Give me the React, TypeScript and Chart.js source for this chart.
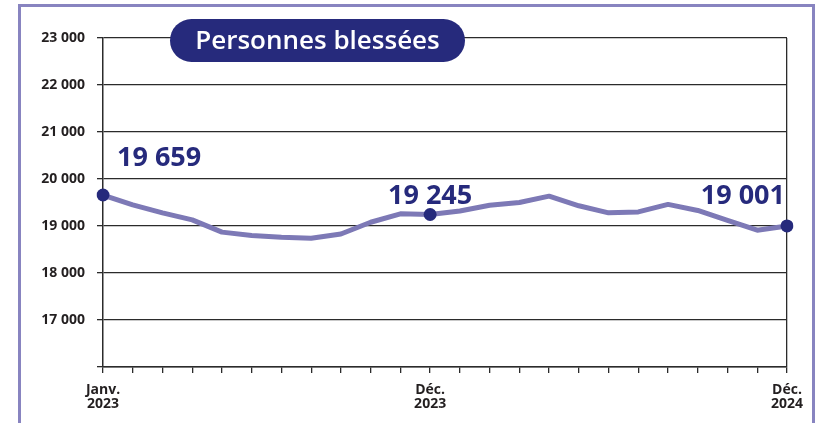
import React, { useEffect, useRef } from "react";
import { Chart, registerables } from "chart.js";

Chart.register(...registerables);

const months: string[] = [
  "Janv. 2023", "Févr. 2023", "Mars 2023", "Avr. 2023", "Mai 2023", "Juin 2023",
  "Juil. 2023", "Août 2023", "Sept. 2023", "Oct. 2023", "Nov. 2023", "Déc. 2023",
  "Janv. 2024", "Févr. 2024", "Mars 2024", "Avr. 2024", "Mai 2024", "Juin 2024",
  "Juil. 2024", "Août 2024", "Sept. 2024", "Oct. 2024", "Nov. 2024", "Déc. 2024",
];

const injured: number[] = [
  19659, 19450, 19280, 19130, 18870, 18800, 18760, 18740, 18830, 19080, 19260, 19245,
  19320, 19440, 19500, 19635, 19430, 19280, 19300, 19460, 19330, 19120, 18910, 19001,
];

const highlighted: number[] = [0, 11, 23];
const tickLabelIdx: number[] = [0, 11, 23];
const title = "Personnes blessées";

const yMin = 16000;
const yMax = 23000;
const yStep = 1000;

const NAVY = "#262a7c";
const LINE = "#7d79b6";
const AXIS = "#2b2b2b";
const TEXT = "#231f20";
const FONT = "'Open Sans', 'Noto Sans', sans-serif";

const fmt = (n: number) => {
  const th = Math.floor(n / 1000);
  const rest = String(Math.round(n % 1000)).padStart(3, "0");
  return `${th} ${rest}`;
};

const overlayPlugin = {
  id: "overlay",
  afterDatasetsDraw(chart: any) {
    const ctx = chart.ctx as CanvasRenderingContext2D;
    const xs = chart.scales.x;
    const ys = chart.scales.y;
    ctx.save();
    // value labels
    ctx.fillStyle = NAVY;
    ctx.font = `bold 27px ${FONT}`;
    ctx.textBaseline = "alphabetic";
    highlighted.forEach((idx, k) => {
      const px = xs.getPixelForValue(idx);
      const py = ys.getPixelForValue(injured[idx]);
      const txt = fmt(injured[idx]);
      if (k === 0) {
        ctx.textAlign = "left";
        ctx.fillText(txt, px + 14, py - 29);
      } else if (k === highlighted.length - 1) {
        ctx.textAlign = "right";
        ctx.fillText(txt, px - 2, py - 22);
      } else {
        ctx.textAlign = "center";
        ctx.fillText(txt, px, py - 10);
      }
    });
    // title pill
    const x0 = 170, y0 = 19, w = 295, h = 43, r = 21.5;
    ctx.fillStyle = NAVY;
    ctx.beginPath();
    ctx.moveTo(x0 + r, y0);
    ctx.lineTo(x0 + w - r, y0);
    ctx.arc(x0 + w - r, y0 + r, r, -Math.PI / 2, Math.PI / 2);
    ctx.lineTo(x0 + r, y0 + h);
    ctx.arc(x0 + r, y0 + r, r, Math.PI / 2, (3 * Math.PI) / 2);
    ctx.closePath();
    ctx.fill();
    ctx.fillStyle = "#ffffff";
    ctx.font = `600 26px ${FONT}`;
    ctx.textAlign = "center";
    ctx.textBaseline = "middle";
    ctx.fillText(title, x0 + w / 2, y0 + h / 2 + 1);
    ctx.restore();
  },
};

export default function App() {
  const ref = useRef<HTMLCanvasElement>(null);
  useEffect(() => {
    if (!ref.current) return;
    const chart = new Chart(ref.current, {
      type: "line",
      data: {
        labels: months,
        datasets: [
          {
            data: injured,
            borderColor: LINE,
            borderWidth: 5,
            borderJoinStyle: "round",
            borderCapStyle: "round",
            tension: 0,
            pointRadius: (c: any) => (highlighted.includes(c.dataIndex) ? 6.5 : 0),
            pointHoverRadius: 0,
            pointBackgroundColor: NAVY,
            pointBorderWidth: 0,
          },
        ],
      },
      options: {
        animation: false,
        responsive: true,
        maintainAspectRatio: false,
        layout: { padding: { top: 38, right: 29, left: 0, bottom: 0 } },
        plugins: { legend: { display: false }, tooltip: { enabled: false }, title: { display: false } },
        scales: {
          x: {
            type: "category",
            grid: {
              display: true,
              drawOnChartArea: true,
              color: (c: any) => (c.index === months.length - 1 ? AXIS : "rgba(0,0,0,0)"),
              tickColor: AXIS,
              tickLength: 6,
              lineWidth: 1.3,
            },
            border: { display: true, color: AXIS, width: 1.5 },
            ticks: {
              autoSkip: false,
              maxRotation: 0,
              minRotation: 0,
              padding: 10,
              color: TEXT,
              font: { family: FONT, size: 14, weight: "bold", lineHeight: 1.0 },
              callback: (_v: any, i: number) => {
                if (!tickLabelIdx.includes(i)) return "";
                return months[i].split(" ");
              },
            },
            afterFit: (s: any) => {
              s.height = 56;
            },
          },
          y: {
            min: yMin,
            max: yMax,
            grid: { color: AXIS, tickColor: AXIS, tickLength: 6, lineWidth: 1.3 },
            border: { display: true, color: AXIS, width: 1.5 },
            ticks: {
              stepSize: yStep,
              padding: 12,
              color: TEXT,
              font: { family: FONT, size: 14, weight: "bold" },
              callback: (v: any) => (Number(v) === yMin ? "" : fmt(Number(v))),
            },
            afterFit: (s: any) => {
              s.width = 103;
            },
          },
        },
      },
      plugins: [overlayPlugin],
    } as any);
    return () => chart.destroy();
  }, []);

  return (
    <div style={{ position: "absolute", left: 0, top: 0, width: 816, height: 423, overflow: "hidden", background: "#fff" }}>
      <div
        style={{
          position: "absolute",
          left: 18,
          top: 4,
          width: 791,
          height: 440,
          border: "3px solid #8884c0",
        }}
      />
      <div style={{ position: "absolute", left: 0, top: 0, width: 816, height: 423 }}>
        <canvas ref={ref} />
      </div>
    </div>
  );
}
